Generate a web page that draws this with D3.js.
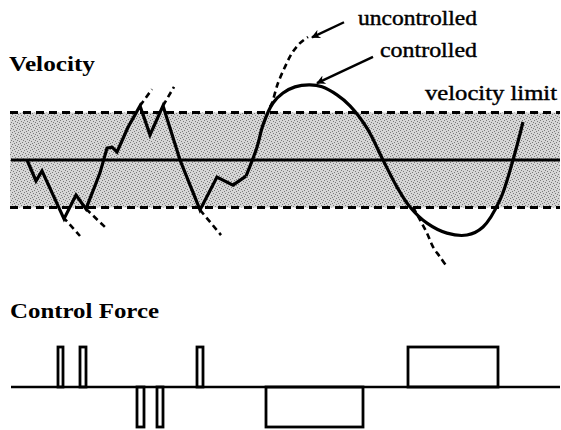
<!DOCTYPE html>
<html>
<head>
<meta charset="utf-8">
<script src="https://cdn.jsdelivr.net/npm/d3@7"></script>
<style>
  body { margin: 0; background: #fff; }
  svg { display: block; }
</style>
</head>
<body>
<svg id="chart" width="561" height="430"></svg>
<script>

// controlled velocity, jagged part (time, velocity / limit)
let velJagged = [
    [3.4, 0], [5.2, -0.44], [6.4, -0.23], [10.8, -1.24], [13.2, -0.74],
    [15.2, -1.03], [18, -0.27], [19.4, 0.25], [20.4, 0.27], [21.4, 0.17],
    [23.6, 0.69], [26, 1.14], [28, 0.53], [30.6, 1.14], [34, 0],
    [38, -1.05], [41.4, -0.36], [44.6, -0.53], [47.2, -0.34]
];

// controlled velocity, smooth swing at the end
let velSmooth = [
    [47.2, -0.34], [49.4, 0.27], [50.6, 0.74], [52.6, 1.2], [54.6, 1.41],
    [57, 1.54], [60, 1.58], [62.4, 1.54], [65.4, 1.37], [68, 1.14],
    [71.4, 0.67], [74.6, 0], [77.4, -0.57], [80, -0.99], [83.4, -1.33],
    [87.4, -1.54], [91.4, -1.58], [94.6, -1.41], [98, -0.84], [100.6, 0],
    [102.6, 0.8]
];

// where the velocity would have gone without control
let uncontrolled = [
    [[10.6, -1.2], [14, -1.6]],
    [[15.2, -1.03], [19, -1.41]],
    [[26, 1.14], [28.4, 1.49]],
    [[30.6, 1.14], [32.8, 1.54]],
    [[38, -1.05], [42.2, -1.58]],
    [[52, 1.12], [52.4, 1.2], [53.6, 1.62], [55, 1.96], [56.4, 2.25], [58, 2.46], [59.6, 2.59]],
    [[80.6, -0.99], [82, -1.26], [83.4, -1.54], [84.6, -1.83], [86, -2.04], [87.4, -2.25]]
];

// control force pulses: start, end, sign
let pulseStart = [9.6, 14, 25.4, 29.4, 37.4, 51.2, 79.6];
let pulseEnd   = [10.6, 15.2, 26.8, 30.6, 38.6, 70.6, 97.6];
let pulseSign  = [1, 1, -1, -1, 1, -1, 1];

let velLimit = 1;

let svg = d3.select("#chart");

let x = d3.scaleLinear().domain([0, 110]).range([10, 560]);
let yVel = d3.scaleLinear().domain([-1, 1]).range([207.5, 112.5]);
let yForce = d3.scaleLinear().domain([-1, 1]).range([427, 347]);

// stipple texture for the allowed band
let defs = svg.append("defs");
let pat = defs.append("pattern")
    .attr("id", "stipple")
    .attr("width", 6).attr("height", 6)
    .attr("patternUnits", "userSpaceOnUse");
pat.append("rect").attr("width", 6).attr("height", 6).attr("fill", "#d6d6d6");
[[0, 0], [3, 1], [1, 3], [4, 4], [5, 2], [2, 5]].forEach(function (p) {
    pat.append("rect").attr("x", p[0]).attr("y", p[1])
        .attr("width", 1).attr("height", 1).attr("fill", "#7a7a7a");
});
defs.append("marker")
    .attr("id", "arrow")
    .attr("viewBox", "0 0 10 10")
    .attr("refX", 9).attr("refY", 5)
    .attr("markerWidth", 10).attr("markerHeight", 9)
    .attr("markerUnits", "userSpaceOnUse")
    .attr("orient", "auto")
    .append("path")
    .attr("d", "M0,0 L10,5 L0,10 L3,5 Z")
    .attr("fill", "#000");

let font = "'Liberation Serif', 'Times New Roman', serif";

// ---- Velocity panel ----
svg.append("rect")
    .attr("x", x(0))
    .attr("y", yVel(velLimit))
    .attr("width", x(110) - x(0))
    .attr("height", yVel(-velLimit) - yVel(velLimit))
    .attr("fill", "url(#stipple)");

[velLimit, -velLimit].forEach(function (v) {
    svg.append("line")
        .attr("x1", x(0)).attr("x2", x(110))
        .attr("y1", yVel(v)).attr("y2", yVel(v))
        .attr("stroke", "#000")
        .attr("stroke-width", 2.8)
        .attr("stroke-dasharray", "8,5");
});

svg.append("line")
    .attr("x1", x(0.2)).attr("x2", x(110))
    .attr("y1", yVel(0)).attr("y2", yVel(0))
    .attr("stroke", "#000")
    .attr("stroke-width", 2.8);

let lineLin = d3.line().x(d => x(d[0])).y(d => yVel(d[1]));
let lineSmooth = d3.line().x(d => x(d[0])).y(d => yVel(d[1])).curve(d3.curveCatmullRom);

svg.selectAll(".unc")
    .data(uncontrolled)
    .enter()
    .append("path")
    .attr("class", "unc")
    .attr("d", d => (d.length > 2 ? lineSmooth(d) : lineLin(d)))
    .attr("fill", "none")
    .attr("stroke", "#000")
    .attr("stroke-width", 2.6)
    .attr("stroke-dasharray", "6,4");

svg.append("path")
    .attr("d", lineLin(velJagged))
    .attr("fill", "none")
    .attr("stroke", "#000")
    .attr("stroke-width", 3.2)
    .attr("stroke-linejoin", "miter");

svg.append("path")
    .attr("d", lineSmooth(velSmooth))
    .attr("fill", "none")
    .attr("stroke", "#000")
    .attr("stroke-width", 3.2);

// annotation arrows
svg.append("line")
    .attr("x1", x(66.8)).attr("y1", yVel(2.90))
    .attr("x2", x(60.4)).attr("y2", yVel(2.58))
    .attr("stroke", "#000").attr("stroke-width", 2.4)
    .attr("marker-end", "url(#arrow)");

svg.append("line")
    .attr("x1", x(72.6)).attr("y1", yVel(2.17))
    .attr("x2", x(61.4)).attr("y2", yVel(1.62))
    .attr("stroke", "#000").attr("stroke-width", 2.4)
    .attr("marker-end", "url(#arrow)");

svg.append("text")
    .attr("x", 358).attr("y", 25)
    .attr("font-family", font).attr("font-size", 20)
    .attr("stroke", "#000").attr("stroke-width", 0.4)
    .attr("textLength", 119).attr("lengthAdjust", "spacingAndGlyphs")
    .text("uncontrolled");

svg.append("text")
    .attr("x", 380).attr("y", 57)
    .attr("font-family", font).attr("font-size", 20)
    .attr("stroke", "#000").attr("stroke-width", 0.4)
    .attr("textLength", 97).attr("lengthAdjust", "spacingAndGlyphs")
    .text("controlled");

svg.append("text")
    .attr("x", 425).attr("y", 100)
    .attr("font-family", font).attr("font-size", 20)
    .attr("stroke", "#000").attr("stroke-width", 0.4)
    .attr("textLength", 132).attr("lengthAdjust", "spacingAndGlyphs")
    .text("velocity limit");

svg.append("text")
    .attr("x", 9).attr("y", 71)
    .attr("font-family", font).attr("font-size", 22).attr("font-weight", "bold")
    .attr("textLength", 86).attr("lengthAdjust", "spacingAndGlyphs")
    .text("Velocity");

// ---- Control force panel ----
svg.append("text")
    .attr("x", 10).attr("y", 318)
    .attr("font-family", font).attr("font-size", 22).attr("font-weight", "bold")
    .attr("textLength", 149).attr("lengthAdjust", "spacingAndGlyphs")
    .text("Control Force");

let pulses = pulseStart.map(function (s, i) {
    return {start: s, end: pulseEnd[i], sign: pulseSign[i]};
});

svg.selectAll(".pulse")
    .data(pulses)
    .enter()
    .append("rect")
    .attr("class", "pulse")
    .attr("x", d => x(d.start))
    .attr("y", d => Math.min(yForce(0), yForce(d.sign)))
    .attr("width", d => x(d.end) - x(d.start))
    .attr("height", d => Math.abs(yForce(d.sign) - yForce(0)))
    .attr("fill", "#fff")
    .attr("stroke", "#000")
    .attr("stroke-width", 2.8);

svg.append("line")
    .attr("x1", x(0.2)).attr("x2", x(110))
    .attr("y1", yForce(0)).attr("y2", yForce(0))
    .attr("stroke", "#000")
    .attr("stroke-width", 2.4);

</script>
</body>
</html>
